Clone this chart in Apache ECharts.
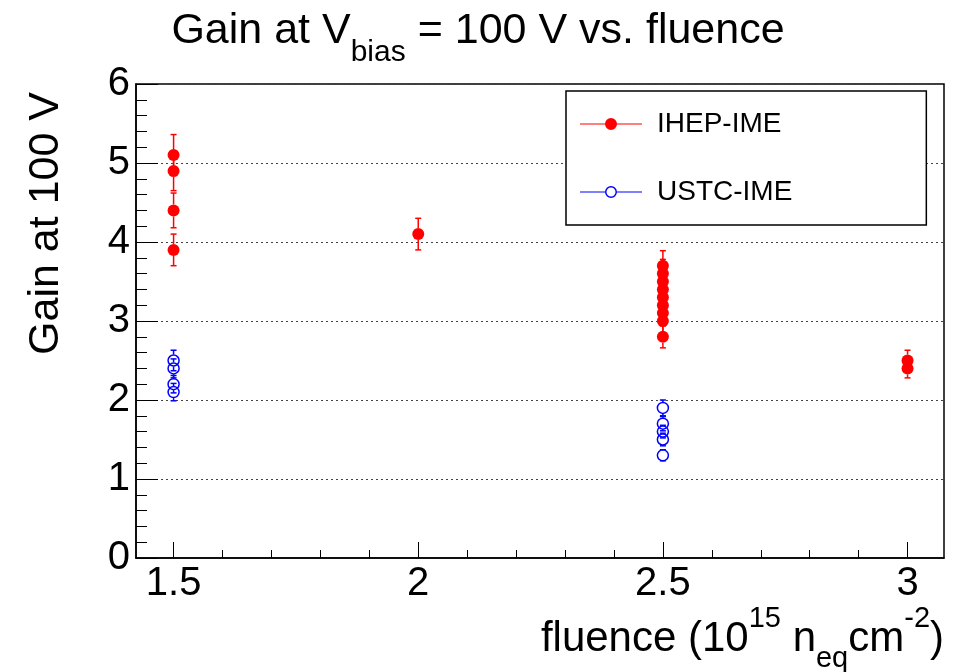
<!DOCTYPE html>
<html>
<head>
<meta charset="utf-8">
<script src="https://cdn.jsdelivr.net/npm/echarts@6/dist/echarts.min.js"></script>
<style>
  html, body { margin: 0; padding: 0; background: #fff; }
  #chart { width: 956px; height: 672px; }
</style>
</head>
<body>
<div id="chart"></div>
<script>
// IHEP-IME points (x = fluence, y = gain, e = error)
const ihepX = [1.5, 1.5, 1.5, 1.5, 2, 2.5, 2.5, 2.5, 2.5, 2.5, 2.5, 2.5, 2.5, 2.5, 3, 3]
const ihepY = [5.1, 4.9, 4.4, 3.9, 4.1, 3.7, 3.6, 3.5, 3.4, 3.3, 3.2, 3.1, 3.0, 2.8, 2.5, 2.4]
const ihepErr = [0.26, 0.25, 0.22, 0.2, 0.2, 0.19, 0.18, 0.18, 0.17, 0.17, 0.16, 0.16, 0.15, 0.14, 0.13, 0.12]

// USTC-IME points
const ustcX = [1.5, 1.5, 1.5, 1.5, 2.5, 2.5, 2.5, 2.5, 2.5]
const ustcY = [2.5, 2.4, 2.2, 2.1, 1.9, 1.7, 1.6, 1.5, 1.3]
const ustcErr = [0.13, 0.12, 0.11, 0.11, 0.1, 0.09, 0.08, 0.08, 0.07]

// axis ticks
const xLabels = [1.5, 2, 2.5, 3]
const xMinorTicks = [1.6, 1.7, 1.8, 1.9, 2.1, 2.2, 2.3, 2.4, 2.6, 2.7, 2.8, 2.9]

const FONT = 'Liberation Sans'
const RED = '#ff0000'
const BLUE = '#0000ff'

const ihepIcon = 'path://M0 5.5H62V6.5H0Z M25 6A6 6 0 1 1 37 6A6 6 0 1 1 25 6Z'
const ustcIcon = 'path://M0 5.5H25V6.5H0Z M37 5.5H62V6.5H37Z M25 6A6 6 0 1 1 37 6A6 6 0 1 1 25 6Z M26.5 6A4.5 4.5 0 1 0 35.5 6A4.5 4.5 0 1 0 26.5 6Z'

function errorBars (color) {
    return function (params, api) {
        const x = api.value(0)
        const y = api.value(1)
        const e = api.value(2)
        const hi = api.coord([x, y + e])
        const lo = api.coord([x, y - e])
        const mid = api.coord([x, y])
        const r = 6
        const cap = 3
        const style = { stroke: color, lineWidth: 1.5 }
        const children = []
        if (mid[1] - hi[1] > r) {
            children.push({ type: 'line', shape: { x1: mid[0], y1: hi[1], x2: mid[0], y2: mid[1] - r }, style: style })
        }
        if (lo[1] - mid[1] > r) {
            children.push({ type: 'line', shape: { x1: mid[0], y1: mid[1] + r, x2: mid[0], y2: lo[1] }, style: style })
        }
        children.push({ type: 'line', shape: { x1: mid[0] - cap, y1: hi[1], x2: mid[0] + cap, y2: hi[1] }, style: style })
        children.push({ type: 'line', shape: { x1: mid[0] - cap, y1: lo[1], x2: mid[0] + cap, y2: lo[1] }, style: style })
        return { type: 'group', children: children }
    }
}

const chart = echarts.init(document.getElementById('chart'))

chart.setOption({
    animation: false,
    textStyle: { fontFamily: FONT, color: '#000' },
    title: {
        text: '{m|Gain at V}{s|bias}{m| = 100 V vs. fluence}',
        left: 'center',
        top: 10,
        padding: 0,
        textStyle: {
            fontFamily: FONT,
            fontWeight: 'normal',
            color: '#000',
            rich: {
                m: { fontSize: 43, fontFamily: FONT, lineHeight: 52, verticalAlign: 'top' },
                s: { fontSize: 30, fontFamily: FONT, lineHeight: 38, verticalAlign: 'top', padding: [28, 0, 0, 0] }
            }
        }
    },
    legend: {
        orient: 'vertical',
        left: 566,
        top: 91,
        padding: [16, 134, 16, 14],
        itemWidth: 62,
        itemHeight: 12,
        itemGap: 34,
        selectedMode: false,
        borderColor: '#000',
        borderWidth: 1.5,
        backgroundColor: '#fff',
        textStyle: { fontSize: 28, fontFamily: FONT, color: '#000', lineHeight: 34, padding: [0, 0, 0, 10] },
        data: [
            { name: 'IHEP-IME', icon: ihepIcon, itemStyle: { color: RED, borderWidth: 0 } },
            { name: 'USTC-IME', icon: ustcIcon, itemStyle: { color: BLUE, borderWidth: 0 } }
        ]
    },
    grid: {
        left: 136,
        right: 12,
        top: 84,
        bottom: 114,
        show: true,
        borderColor: '#000',
        borderWidth: 1.5
    },
    xAxis: [{
        type: 'value',
        min: 1.4232,
        max: 3.0745,
        position: 'bottom',
        axisLine: { show: true, lineStyle: { color: '#000', width: 1.5 } },
        axisTick: { show: true, inside: true, length: 16, customValues: xLabels, lineStyle: { color: '#000' } },
        axisLabel: {
            customValues: xLabels,
            fontSize: 40,
            fontFamily: FONT,
            color: '#000',
            margin: 6,
            formatter: v => String(v)
        },
        splitLine: { show: false }
    }, {
        type: 'value',
        min: 1.4232,
        max: 3.0745,
        position: 'bottom',
        axisLine: { show: false },
        axisTick: { show: true, inside: true, length: 8, customValues: xMinorTicks, lineStyle: { color: '#000' } },
        axisLabel: { show: false },
        splitLine: { show: false }
    }],
    yAxis: {
        type: 'value',
        min: 0,
        max: 6,
        interval: 1,
        axisLine: { show: true, lineStyle: { color: '#000', width: 1.5 } },
        axisTick: { show: true, inside: true, length: 22, lineStyle: { color: '#000' } },
        minorTick: { show: true, splitNumber: 5, length: 11, lineStyle: { color: '#000' } },
        axisLabel: { fontSize: 40, fontFamily: FONT, color: '#000', margin: 6 },
        splitLine: { show: true, lineStyle: { color: '#444', type: [2, 3], width: 1 } }
    },
    graphic: [{
        type: 'text',
        x: 46,
        y: 92,
        rotation: Math.PI / 2,
        style: {
            text: 'Gain at 100 V',
            fontSize: 43,
            fontFamily: FONT,
            fill: '#000',
            align: 'right',
            verticalAlign: 'middle'
        }
    }, {
        type: 'text',
        x: 944,
        y: 604,
        style: {
            text: '{m|fluence (10}{p|15}{m| n}{s|eq}{m|cm}{p|-2}{m|)}',
            align: 'right',
            verticalAlign: 'top',
            fill: '#000',
            rich: {
                m: { fontSize: 42, fontFamily: FONT, lineHeight: 50, verticalAlign: 'top', padding: [14, 0, 0, 0] },
                p: { fontSize: 29, fontFamily: FONT, lineHeight: 36, verticalAlign: 'top' },
                s: { fontSize: 29, fontFamily: FONT, lineHeight: 36, verticalAlign: 'top', padding: [40, 0, 0, 0] }
            }
        }
    }],
    series: [{
        name: 'IHEP-IME',
        type: 'custom',
        xAxisIndex: 0,
        renderItem: errorBars(RED),
        encode: { x: 0, y: 1 },
        silent: true,
        z: 1,
        data: ihepX.map((x, i) => [x, ihepY[i], ihepErr[i]])
    }, {
        name: 'USTC-IME',
        type: 'custom',
        xAxisIndex: 0,
        renderItem: errorBars(BLUE),
        encode: { x: 0, y: 1 },
        silent: true,
        z: 1,
        data: ustcX.map((x, i) => [x, ustcY[i], ustcErr[i]])
    }, {
        name: 'IHEP-IME',
        type: 'scatter',
        xAxisIndex: 0,
        symbol: 'circle',
        symbolSize: 12,
        itemStyle: { color: RED, opacity: 1 },
        z: 3,
        data: ihepX.map((x, i) => [x, ihepY[i]])
    }, {
        name: 'USTC-IME',
        type: 'scatter',
        xAxisIndex: 0,
        symbol: 'circle',
        symbolSize: 11,
        itemStyle: { color: 'rgba(0,0,0,0)', borderColor: BLUE, borderWidth: 1.5, opacity: 1 },
        z: 3,
        data: ustcX.map((x, i) => [x, ustcY[i]])
    }]
})
</script>
</body>
</html>
